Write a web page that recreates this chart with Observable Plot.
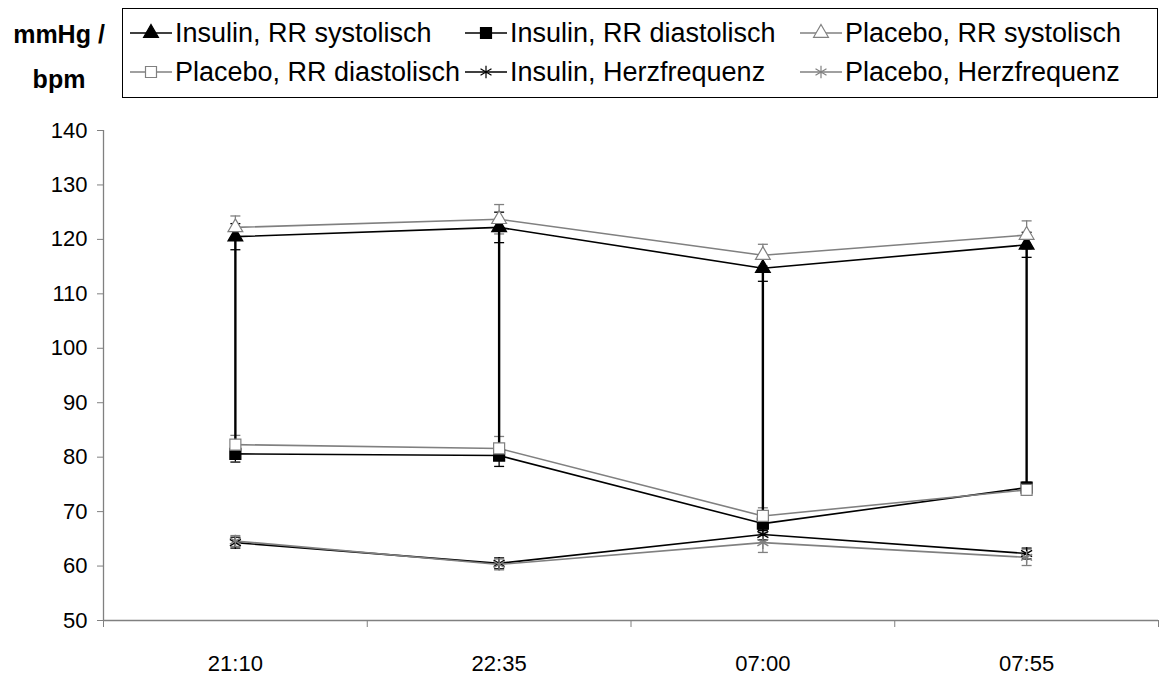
<!DOCTYPE html>
<html><head><meta charset="utf-8">
<script src="https://cdn.jsdelivr.net/npm/d3@7"></script>
<script src="https://cdn.jsdelivr.net/npm/@observablehq/plot@0.6"></script>
<style>
body{margin:0;background:#fff;font-family:"Liberation Sans",Arial,sans-serif;color:#000;}
#wrap{position:relative;width:1171px;}
#header{position:relative;height:110px;}
#ylab{position:absolute;left:0;top:12px;width:118px;text-align:center;font-weight:bold;font-size:25px;line-height:45px;}
#legend{position:absolute;left:122px;top:8px;width:1034px;height:88px;border:1px solid #000;}
.item{position:absolute;display:flex;align-items:center;font-size:27px;height:32px;white-space:nowrap;}
.item svg{margin-right:3px;}
</style>
</head><body>
<div id="wrap">
  <div id="header">
    <div id="ylab">mmHg /<br>bpm</div>
    <div id="legend"></div>
  </div>
  <div id="chart"></div>
</div>
<script>
const times = ["21:10", "22:35", "07:00", "07:55"];
const yTicks = [50, 60, 70, 80, 90, 100, 110, 120, 130, 140];

const insulinSys = [120.5, 122.2, 114.7, 119.0];
const insulinSysErr = [2.4, 2.8, 2.4, 2.3];
const insulinDia = [80.6, 80.3, 67.8, 74.4];
const insulinDiaErr = [1.5, 2.0, 1.3, 1.0];
const placeboSys = [122.2, 123.7, 117.1, 120.8];
const placeboSysErr = [2.1, 2.7, 2.0, 2.6];
const placeboDia = [82.3, 81.6, 69.2, 74.0];
const placeboDiaErr = [1.7, 2.2, 1.5, 0.8];
const insulinHR = [64.3, 60.5, 65.8, 62.3];
const insulinHRErr = [1.0, 1.0, 1.0, 1.0];
const placeboHR = [64.6, 60.3, 64.3, 61.6];
const placeboHRErr = [1.0, 1.0, 1.8, 1.5];

const BLACK = "#000000", GRAY = "#808080";
const series = [
  {name: "Insulin, RR systolisch", values: insulinSys, err: insulinSysErr, stroke: BLACK, fill: BLACK, symbol: "triangle", r: 5.5},
  {name: "Insulin, RR diastolisch", values: insulinDia, err: insulinDiaErr, stroke: BLACK, fill: BLACK, symbol: "square", r: 6.2},
  {name: "Placebo, RR systolisch", values: placeboSys, err: placeboSysErr, stroke: GRAY, fill: "white", symbol: "triangle", r: 5.5},
  {name: "Placebo, RR diastolisch", values: placeboDia, err: placeboDiaErr, stroke: GRAY, fill: "white", symbol: "square", r: 6.2},
  {name: "Insulin, Herzfrequenz", values: insulinHR, err: insulinHRErr, stroke: BLACK, fill: "none", symbol: "asterisk", r: 6},
  {name: "Placebo, Herzfrequenz", values: placeboHR, err: placeboHRErr, stroke: GRAY, fill: "none", symbol: "asterisk", r: 6}
];

const capSymbol = {
  draw(context, size) {
    const r = Math.sqrt(size / Math.PI);
    context.moveTo(-r, 0);
    context.lineTo(r, 0);
  }
};

const rowsOf = s => s.values.map((v, i) => ({x: i + 0.5, v, lo: v - s.err[i], hi: v + s.err[i]}));
const connector = times.map((t, i) => ({x: i + 0.5, lo: insulinDia[i], hi: insulinSys[i]}));

const marks = [];
marks.push(Plot.ruleY([50], {stroke: GRAY, strokeWidth: 1.3}));
marks.push(Plot.ruleX([0], {y1: 50, y2: 140, stroke: GRAY, strokeWidth: 1.3}));
marks.push(Plot.axisY({ticks: yTicks, tickSize: 6, tickPadding: 10, stroke: GRAY, fill: BLACK, fontSize: 22, label: null}));
marks.push(Plot.axisX({ticks: [0, 1, 2, 3, 4], tickSize: 7, tickFormat: () => "", stroke: GRAY, label: null}));
marks.push(Plot.axisX({ticks: [0.5, 1.5, 2.5, 3.5], tickSize: 0, tickPadding: 35, tickFormat: d => times[Math.floor(d)], fill: BLACK, fontSize: 22, label: null}));

for (const s of series) {
  marks.push(Plot.line(rowsOf(s), {x: "x", y: "v", stroke: s.stroke, strokeWidth: 1.6}));
}
for (const s of series) {
  const rows = rowsOf(s);
  marks.push(Plot.ruleX(rows, {x: "x", y1: "lo", y2: "hi", stroke: s.stroke, strokeWidth: 1.3}));
  marks.push(Plot.dot(rows, {x: "x", y: "lo", symbol: capSymbol, r: 5, stroke: s.stroke, strokeWidth: 1.3}));
  marks.push(Plot.dot(rows, {x: "x", y: "hi", symbol: capSymbol, r: 5, stroke: s.stroke, strokeWidth: 1.3}));
}
marks.push(Plot.ruleX(connector, {x: "x", y1: "lo", y2: "hi", stroke: BLACK, strokeWidth: 2.4}));
for (const s of series) {
  marks.push(Plot.dot(rowsOf(s), {x: "x", y: "v", symbol: s.symbol, r: s.r, fill: s.fill, stroke: s.stroke, strokeWidth: s.symbol === "asterisk" ? 1.4 : 1.2}));
}

const chart = Plot.plot({
  width: 1171,
  height: 565,
  marginTop: 20,
  marginLeft: 103,
  marginRight: 13,
  marginBottom: 55,
  style: {fontFamily: "'Liberation Sans', Arial, sans-serif", fontSize: "22px", color: "#000", background: "white", overflow: "visible"},
  x: {type: "linear", domain: [0, 4], axis: null, label: null},
  y: {domain: [50, 140], axis: null, label: null},
  marks
});
document.getElementById("chart").appendChild(chart);

// legend
const legend = document.getElementById("legend");
const cols = [7, 342, 677];
const rowsY = [8, 47];
series.forEach((s, k) => {
  const pos = [[0,0],[1,0],[2,0],[0,1],[1,1],[2,1]][k];
  const item = document.createElement("div");
  item.className = "item";
  item.style.left = cols[pos[0]] + "px";
  item.style.top = rowsY[pos[1]] + "px";
  const svg = d3.create("svg").attr("width", 42).attr("height", 20);
  svg.append("line").attr("x1", 0).attr("x2", 42).attr("y1", 10).attr("y2", 10)
     .attr("stroke", s.stroke).attr("stroke-width", 1.6);
  const symType = {triangle: d3.symbolTriangle, square: d3.symbolSquare, asterisk: d3.symbolAsterisk}[s.symbol];
  svg.append("path").attr("transform", "translate(21,10)")
     .attr("d", d3.symbol(symType, Math.PI * s.r * s.r)())
     .attr("fill", s.fill).attr("stroke", s.stroke).attr("stroke-width", 1.2);
  item.appendChild(svg.node());
  const span = document.createElement("span");
  span.textContent = s.name;
  item.appendChild(span);
  legend.appendChild(item);
});
</script>
</body></html>
